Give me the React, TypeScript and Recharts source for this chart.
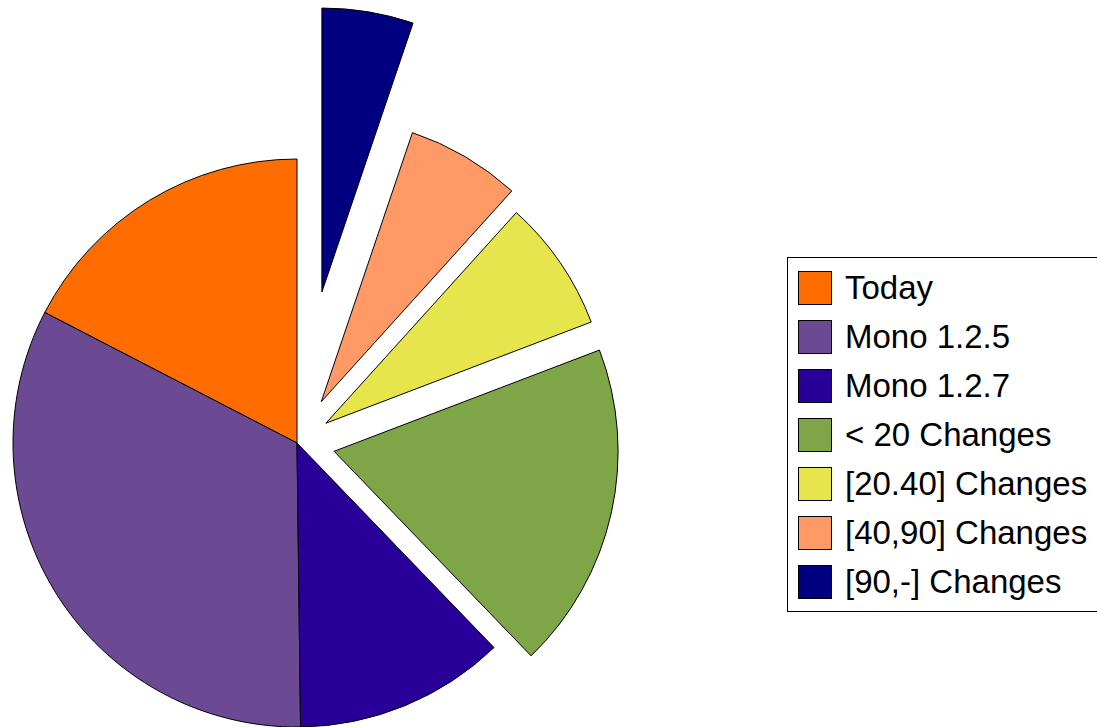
import { PieChart, Pie, Cell, Legend } from 'recharts';

const labels = [
  'Today',
  'Mono 1.2.5',
  'Mono 1.2.7',
  '< 20 Changes',
  '[20.40] Changes',
  '[40,90] Changes',
  '[90,-] Changes',
];
const shares = [17.4, 32.8, 12.0, 18.6, 7.5, 6.5, 5.2];
const colors = ['#ff6d00', '#6b4993', '#280099', '#7ea646', '#e6e64c', '#ff9966', '#000080'];
// how far each slice is pulled out of the pie, in px
const explode = [0, 0, 0, 38, 35, 48, 153];

const data = labels.map((name, i) => ({ name, value: shares[i] }));
const total = shares.reduce((a, b) => a + b, 0);

const CX = 297;
const CY = 443;
const R = 284;

function midAngle(i: number) {
  const before = shares.slice(0, i).reduce((a, b) => a + b, 0);
  return 90 + (360 * (before + shares[i] / 2)) / total;
}

function LegendBox() {
  return (
    <div
      style={{
        border: '1px solid #000',
        background: '#fff',
        width: 330,
        padding: '5px 0 0 10px',
        boxSizing: 'border-box',
        height: 355,
        fontFamily: '"Liberation Sans", Arial, sans-serif',
        fontSize: 33,
        color: '#000',
      }}
    >
      {labels.map((name, i) => (
        <div key={name} style={{ display: 'flex', alignItems: 'center', height: 49 }}>
          <span
            style={{
              width: 34,
              height: 34,
              background: colors[i],
              border: '1px solid #000',
              boxSizing: 'border-box',
              marginRight: 13,
              flexShrink: 0,
            }}
          />
          <span style={{ whiteSpace: 'nowrap', lineHeight: '34px' }}>{name}</span>
        </div>
      ))}
    </div>
  );
}

export default function App() {
  // main pie holds the first three slices, the rest are drawn pulled out
  const groups = [[0, 1, 2], [3], [4], [5], [6]];
  return (
    <div>
      <style>{'body{margin:0;}'}</style>
      <PieChart width={1097} height={727} margin={{ top: 0, right: 0, bottom: 0, left: 0 }}>
        {groups.map((g, k) => {
          const i = g[0];
          const d = g.length === 1 ? explode[i] : 0;
          const a = (midAngle(i) * Math.PI) / 180;
          return (
            <Pie
              key={k}
              data={data}
              dataKey="value"
              nameKey="name"
              cx={CX + d * Math.cos(a)}
              cy={CY - d * Math.sin(a)}
              outerRadius={R}
              innerRadius={0}
              startAngle={90}
              endAngle={450}
              paddingAngle={0}
              stroke="#000"
              strokeWidth={1}
              isAnimationActive={false}
              legendType="none"
            >
              {data.map((_, j) =>
                g.includes(j) ? (
                  <Cell key={j} fill={colors[j]} stroke="#000" />
                ) : (
                  <Cell key={j} fill="none" stroke="none" />
                )
              )}
            </Pie>
          );
        })}
        <Legend
          content={() => <LegendBox />}
          wrapperStyle={{ position: 'absolute', left: 787, top: 257, width: 330 }}
        />
      </PieChart>
    </div>
  );
}
